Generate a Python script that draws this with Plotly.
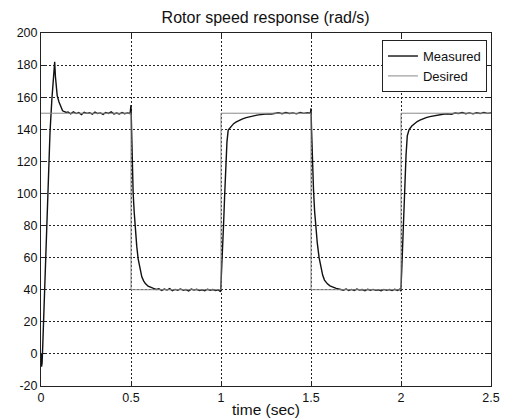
import plotly.graph_objects as go

# Reference (commanded) rotor speed: piecewise-constant steps
t_desired = [0.0, 0.5, 1.0, 1.5, 2.0, 2.5]
w_desired = [150, 40, 150, 40, 150, 150]

# Measured rotor speed samples
t_measured = [
    0.000, 0.003, 0.006, 0.010, 0.020, 0.030, 0.040, 0.050, 0.060, 0.070,
    0.076, 0.080, 0.085, 0.090, 0.100, 0.110, 0.120, 0.130, 0.140, 0.150,
    0.165, 0.180, 0.195, 0.210, 0.225, 0.240, 0.255, 0.270, 0.285, 0.300,
    0.315, 0.330, 0.345, 0.360, 0.375, 0.390, 0.405, 0.420, 0.435, 0.450,
    0.465, 0.480, 0.495, 0.500,
    0.503, 0.507, 0.512, 0.518, 0.525, 0.532, 0.540, 0.550, 0.560, 0.570,
    0.580, 0.595, 0.610, 0.625, 0.640, 0.655, 0.670, 0.685, 0.700, 0.715,
    0.730, 0.745, 0.760, 0.775, 0.790, 0.805, 0.820, 0.835, 0.850, 0.865,
    0.880, 0.895, 0.910, 0.925, 0.940, 0.955, 0.970, 0.985, 0.998,
    1.003, 1.008, 1.014, 1.020, 1.027, 1.033, 1.040, 1.055, 1.070, 1.085,
    1.100, 1.120, 1.140, 1.160, 1.180, 1.200, 1.220, 1.240, 1.260, 1.280,
    1.300, 1.320, 1.340, 1.360, 1.380, 1.400, 1.420, 1.440, 1.460, 1.480,
    1.497, 1.500,
    1.503, 1.508, 1.514, 1.520, 1.527, 1.535, 1.545, 1.555, 1.565, 1.575,
    1.590, 1.605, 1.620, 1.640, 1.660, 1.680, 1.695, 1.710, 1.725, 1.740,
    1.755, 1.770, 1.785, 1.800, 1.815, 1.830, 1.845, 1.860, 1.875, 1.890,
    1.905, 1.920, 1.935, 1.950, 1.965, 1.980, 1.995, 1.999,
    2.004, 2.009, 2.015, 2.021, 2.028, 2.035, 2.045, 2.060, 2.075, 2.090,
    2.105, 2.120, 2.140, 2.160, 2.180, 2.200, 2.220, 2.240, 2.260, 2.280,
    2.300, 2.320, 2.340, 2.360, 2.380, 2.400, 2.420, 2.440, 2.460, 2.480,
    2.500,
]
w_measured = [
    0.0, -8.0, -6.0, 6.0, 40.0, 75.0, 108.0, 138.0, 158.0, 174.0,
    182.0, 173.0, 165.0, 161.0, 157.0, 153.5, 151.5, 151.0, 150.5, 150.8,
    149.6, 150.9, 149.8, 150.4, 149.2, 150.6, 149.9, 150.3, 149.4, 150.7,
    149.8, 150.2, 149.3, 150.5, 149.9, 150.8, 149.6, 150.1, 149.5, 150.4,
    149.7, 150.2, 149.8, 155.0,
    140.0, 118.0, 100.0, 88.0, 76.0, 67.0, 59.0, 52.5, 48.0, 45.5,
    43.8, 42.2, 41.3, 40.8, 40.2, 40.6, 39.5, 40.4, 39.8, 40.7,
    39.4, 40.2, 39.7, 40.5, 39.6, 40.1, 39.3, 40.4, 39.8, 40.3,
    39.5, 40.0, 39.4, 40.3, 39.7, 40.1, 39.5, 39.9, 38.8,
    50.0, 63.0, 80.0, 98.0, 118.0, 132.0, 139.5, 141.8, 143.5, 144.6,
    145.5, 146.5, 147.3, 147.9, 148.4, 148.8, 149.1, 149.4, 149.6, 149.5,
    149.9, 150.3, 149.7, 150.4, 149.8, 150.2, 149.6, 150.5, 149.9, 150.3,
    150.0, 153.0,
    140.0, 120.0, 102.0, 89.0, 78.0, 69.0, 60.0, 53.5, 49.0, 46.0,
    43.8, 42.4, 41.5, 40.8, 40.3, 39.7, 40.5, 39.6, 40.2, 39.5,
    40.4, 39.8, 40.1, 39.4, 40.3, 39.7, 40.2, 39.6, 40.0, 39.3,
    40.2, 39.6, 40.1, 39.5, 40.3, 39.6, 40.4, 39.0,
    52.0, 68.0, 86.0, 104.0, 124.0, 136.0, 139.8, 142.0, 143.6, 144.8,
    145.7, 146.5, 147.3, 147.9, 148.4, 148.8, 149.2, 149.5, 149.7, 149.4,
    150.1, 149.8, 150.4, 149.7, 150.2, 149.6, 150.3, 149.8, 150.5, 149.9,
    150.2,
]

x_ticks = [0, 0.5, 1, 1.5, 2, 2.5]
x_tick_text = ["0", "0.5", "1", "1.5", "2", "2.5"]
y_ticks = [-20, 0, 20, 40, 60, 80, 100, 120, 140, 160, 180, 200]
y_tick_text = ["-20", "0", "20", "40", "60", "80", "100", "120", "140",
               "160", "180", "200"]

FONT = "Liberation Sans, Arial, sans-serif"
INK = "#111111"

fig = go.Figure()
fig.add_trace(go.Scatter(
    x=t_measured, y=w_measured, mode="lines", name="Measured",
    line=dict(color=INK, width=1.4),
))
fig.add_trace(go.Scatter(
    x=t_desired, y=w_desired, mode="lines", name="Desired",
    line=dict(color="#8a8a8a", width=1, shape="hv"),
))

axis_common = dict(
    showline=True, linecolor="#222222", linewidth=1, mirror="ticks",
    ticks="inside", ticklen=4, tickcolor="#222222",
    showgrid=True, gridcolor="#222222", gridwidth=1, griddash="2px,2px",
    zeroline=False, tickfont=dict(family=FONT, size=12.5, color=INK),
)

fig.update_layout(
    width=506, height=419,
    margin=dict(l=41, r=15, t=33, b=33, autoexpand=False),
    paper_bgcolor="white", plot_bgcolor="white",
    title=dict(text="Rotor speed response (rad/s)", x=0.525, xanchor="center",
               y=1 - 17 / 419, yanchor="middle",
               font=dict(family=FONT, size=16, color=INK)),
    xaxis=dict(range=[0, 2.5], tickvals=x_ticks, ticktext=x_tick_text,
               title=dict(text="time (sec)", standoff=0,
                          font=dict(family=FONT, size=15.5, color=INK)),
               automargin=False, **axis_common),
    yaxis=dict(range=[-20, 200], tickvals=y_ticks, ticktext=y_tick_text,
               automargin=False, **axis_common),
    legend=dict(x=0.991, y=0.98, xanchor="right", yanchor="top",
                bgcolor="white", bordercolor="#222222", borderwidth=1,
                font=dict(family=FONT, size=13, color=INK),
                itemwidth=30, tracegroupgap=0),
    showlegend=True,
)

fig.write_html("out.html")
